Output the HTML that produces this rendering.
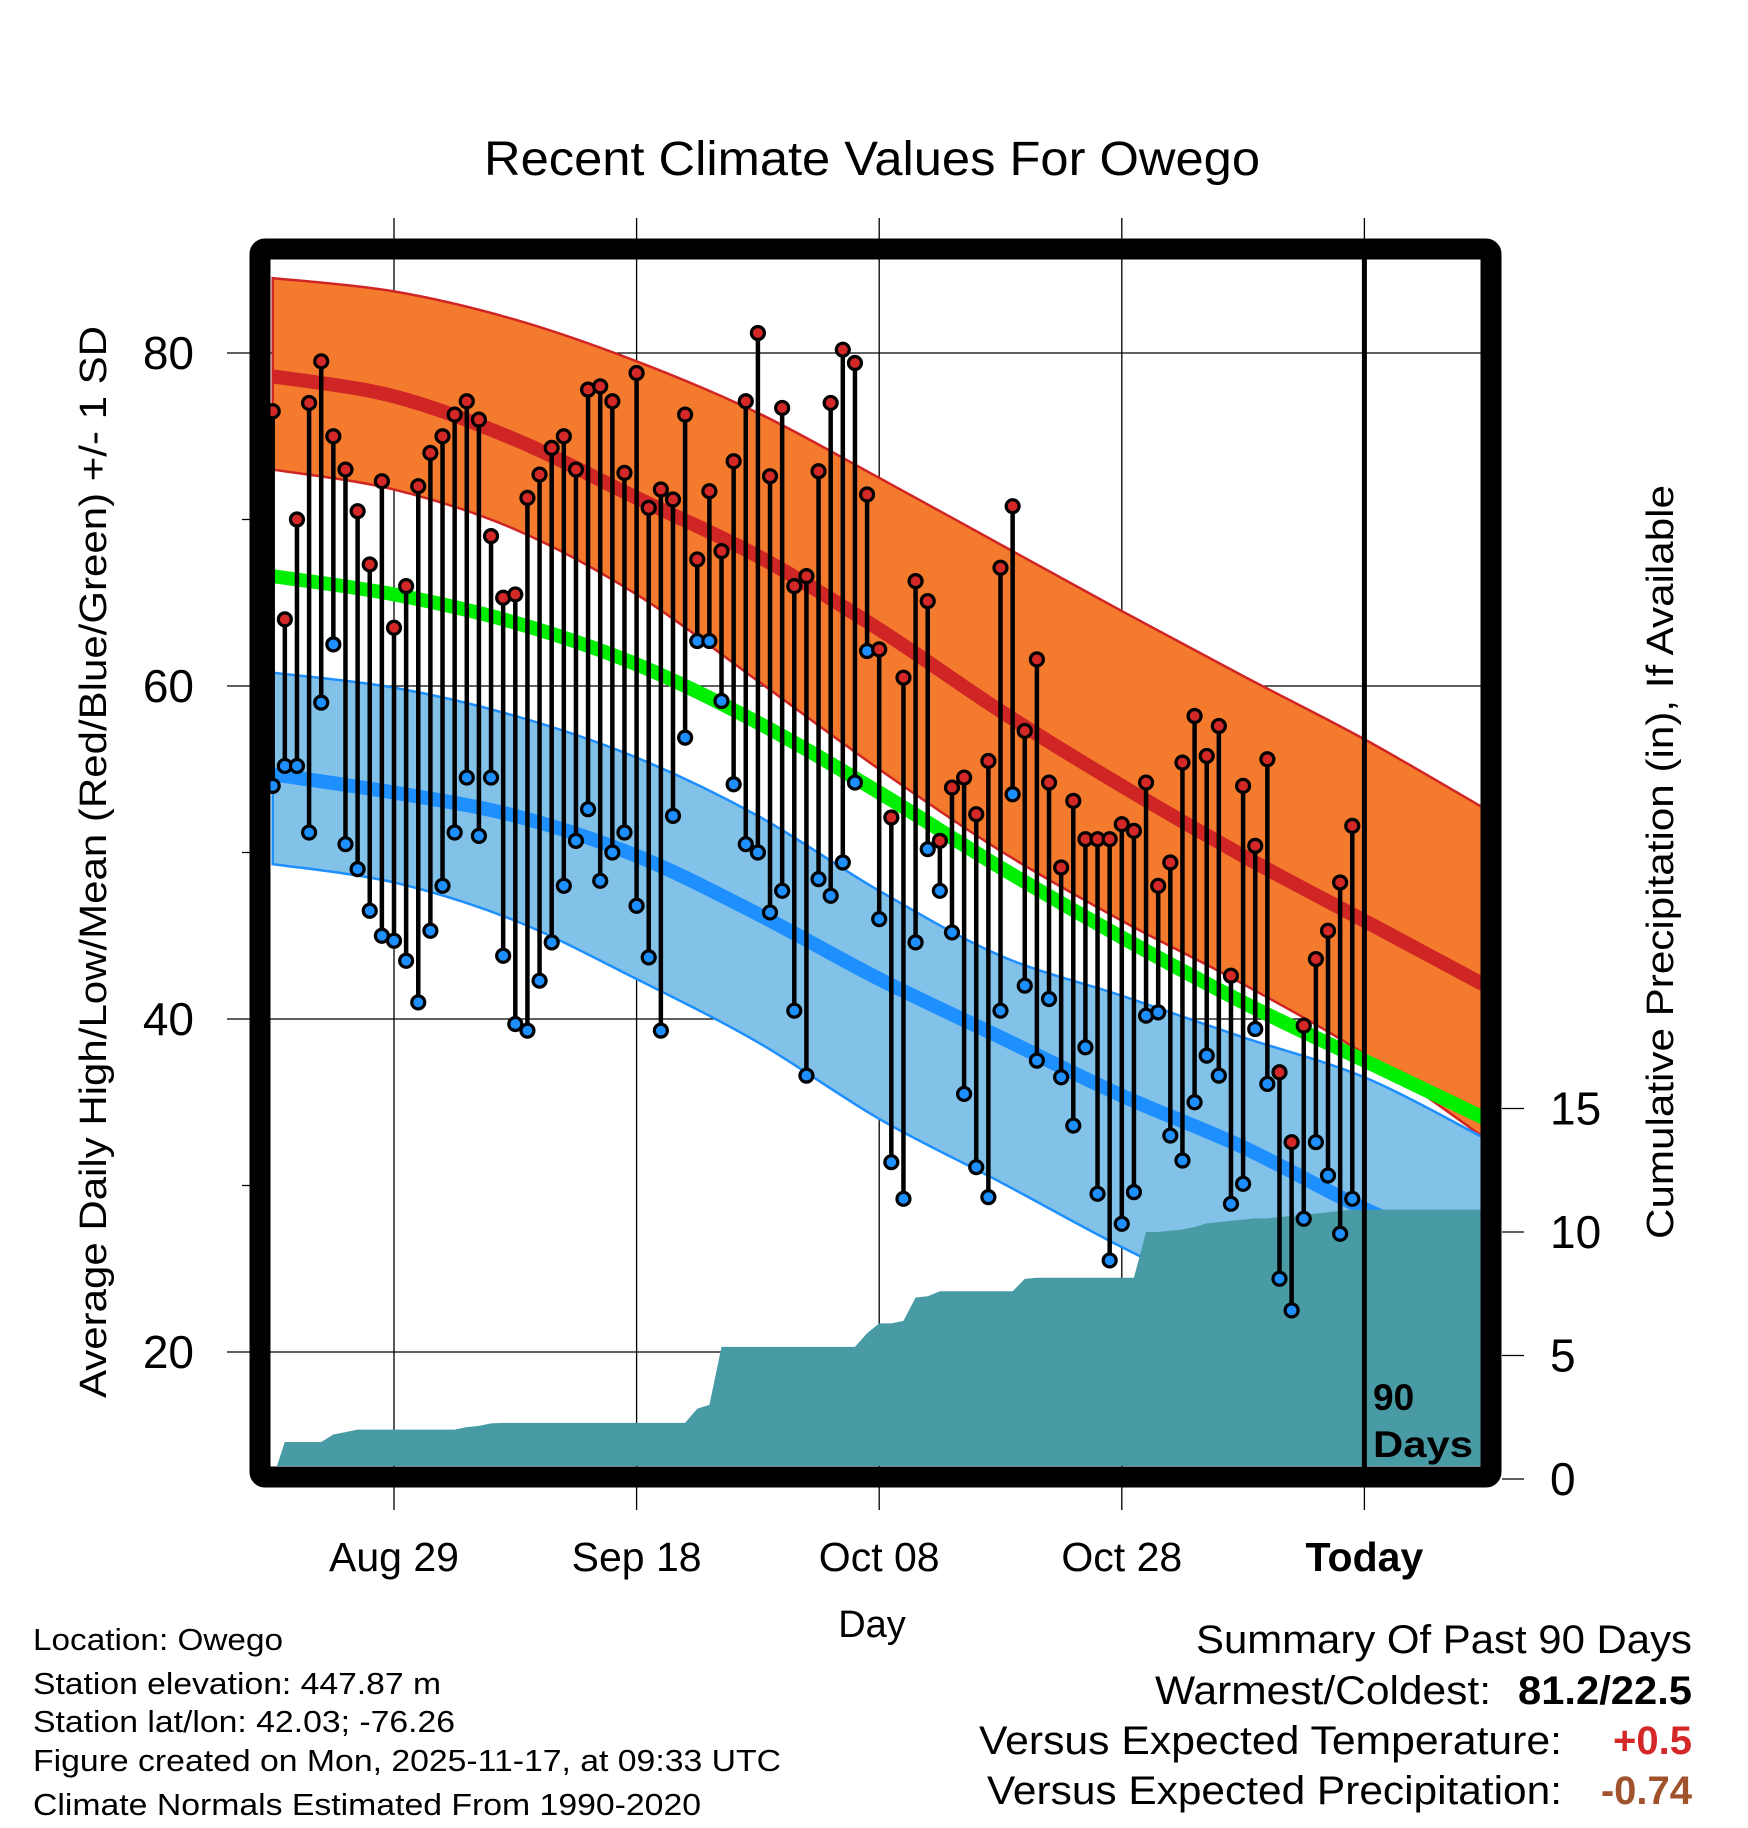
<!DOCTYPE html>
<html><head><meta charset="utf-8"><style>
html,body{margin:0;padding:0;background:#fff;}
svg{display:block;font-family:"Liberation Sans",sans-serif;}
</style></head><body>
<svg id="chart" width="1748" height="1828" viewBox="0 0 1748 1828" xmlns="http://www.w3.org/2000/svg">
<defs><clipPath id="plotclip"><rect x="270" y="259" width="1211" height="1207"/></clipPath></defs>
<text x="872" y="175" font-size="48" text-anchor="middle" textLength="776" lengthAdjust="spacingAndGlyphs">Recent Climate Values For Owego</text>
<g id="grid"></g>
<g id="plot" clip-path="url(#plotclip)"></g>
<g id="marks"></g>
<rect x="260" y="249" width="1231" height="1228" rx="5" fill="none" stroke="#000" stroke-width="21"/>
<g id="axes"></g>
<text transform="translate(106,862) rotate(-90)" font-size="38" text-anchor="middle" textLength="1072" lengthAdjust="spacingAndGlyphs">Average Daily High/Low/Mean (Red/Blue/Green) +/- 1 SD</text>
<text transform="translate(1673,862) rotate(-90)" font-size="38" text-anchor="middle" textLength="754" lengthAdjust="spacingAndGlyphs">Cumulative Precipitation (in), If Available</text>
<text x="872" y="1637" font-size="38" text-anchor="middle">Day</text>
<text x="1373" y="1410" font-size="37" font-weight="bold">90</text>
<text x="1373" y="1457" font-size="37" font-weight="bold" textLength="100" lengthAdjust="spacingAndGlyphs">Days</text>
<g font-size="31">
<text x="33" y="1650" textLength="250" lengthAdjust="spacingAndGlyphs">Location: Owego</text>
<text x="33" y="1694" textLength="408" lengthAdjust="spacingAndGlyphs">Station elevation: 447.87 m</text>
<text x="33" y="1732" textLength="422" lengthAdjust="spacingAndGlyphs">Station lat/lon: 42.03; -76.26</text>
<text x="33" y="1771" textLength="748" lengthAdjust="spacingAndGlyphs">Figure created on Mon, 2025-11-17, at 09:33 UTC</text>
<text x="33" y="1815" textLength="668" lengthAdjust="spacingAndGlyphs">Climate Normals Estimated From 1990-2020</text>
</g>
<g font-size="40">
<text x="1692" y="1653" text-anchor="end" textLength="496" lengthAdjust="spacingAndGlyphs">Summary Of Past 90 Days</text>
<text x="1491" y="1704" text-anchor="end" textLength="336" lengthAdjust="spacingAndGlyphs">Warmest/Coldest:</text>
<text x="1692" y="1704" text-anchor="end" font-weight="bold" textLength="174" lengthAdjust="spacingAndGlyphs">81.2/22.5</text>
<text x="1562" y="1754" text-anchor="end" textLength="583" lengthAdjust="spacingAndGlyphs">Versus Expected Temperature:</text>
<text x="1692" y="1754" text-anchor="end" font-weight="bold" fill="#d42828">+0.5</text>
<text x="1562" y="1804" text-anchor="end" textLength="575" lengthAdjust="spacingAndGlyphs">Versus Expected Precipitation:</text>
<text x="1692" y="1804" text-anchor="end" font-weight="bold" fill="#a0522d">-0.74</text>
</g>
</svg>
<script>
const normDays=[-10,0,10,20,30,40,50,60,70,80,90];
const highUpper=[84.5,83.7,82,79.5,76.4,72.5,68.5,64.5,60.6,56.8,52.6];
const highNorm=[78.6,77.4,74.8,71.3,67.8,63.4,58.5,54,49.8,45.9,42];
const highLower=[73,71.8,69.4,65.5,60.3,55,50.1,45.9,42.1,37.9,32.8];
const meanNorm=[66.6,65.5,63.8,61.3,57.8,53.6,49.1,44.9,41,37.5,34];
const lowUpper=[60.8,59.9,58.2,55.7,52.2,47.7,43.8,41.4,38.9,36.5,32.8];
const lowNorm=[54.7,53.6,52.2,49.8,46.3,42.4,38.9,35.4,32.3,28.6,25.5];
const lowLower=[49.3,48.2,45.9,42.4,38.6,34,30.2,26.3,22.8,19.5,16];
const highs=[76.5,64,70,77,79.5,75,73,70.5,67.3,72.3,63.5,66,72,74,75,76.3,77.1,76,69,65.3,65.5,71.3,72.7,74.3,75,73,77.8,78,77.1,72.8,78.8,70.7,71.8,71.2,76.3,67.6,71.7,68.1,73.5,77.1,81.2,72.6,76.7,66,66.6,72.9,77,80.2,79.4,71.5,62.2,52.1,60.5,66.3,65.1,50.7,53.9,54.5,52.3,55.5,67.1,70.8,57.3,61.6,54.2,49.1,53.1,50.8,50.8,50.8,51.7,51.3,54.2,48,49.4,55.4,58.2,55.8,57.6,42.6,54,50.4,55.6,36.8,32.6,39.6,43.6,45.3,48.2,51.6];
const lows=[54,55.2,55.2,51.2,59,62.5,50.5,49,46.5,45,44.7,43.5,41,45.3,48,51.2,54.5,51,54.5,43.8,39.7,39.3,42.3,44.6,48,50.7,52.6,48.3,50,51.2,46.8,43.7,39.3,52.2,56.9,62.7,62.7,59.1,54.1,50.5,50,46.4,47.7,40.5,36.6,48.4,47.4,49.4,54.2,62.1,46,31.4,29.2,44.6,50.2,47.7,45.2,35.5,31.1,29.3,40.5,53.5,42,37.5,41.2,36.5,33.6,38.3,29.5,25.5,27.7,29.6,40.2,40.4,33,31.5,35,37.8,36.6,28.9,30.1,39.4,36.1,24.4,22.5,28,32.6,30.6,27.1,29.2];
const precip=[0,1.5,1.5,1.5,1.5,1.8,1.9,2,2,2,2,2,2,2,2,2,2.1,2.15,2.25,2.27,2.27,2.27,2.27,2.27,2.27,2.27,2.27,2.27,2.27,2.27,2.27,2.27,2.27,2.27,2.27,2.85,3,5.35,5.35,5.35,5.35,5.35,5.35,5.35,5.35,5.35,5.35,5.35,5.35,5.9,6.3,6.3,6.4,7.35,7.4,7.6,7.6,7.6,7.6,7.6,7.6,7.6,8.1,8.15,8.15,8.15,8.15,8.15,8.15,8.15,8.15,8.15,10,10,10.05,10.1,10.2,10.35,10.4,10.45,10.5,10.55,10.55,10.6,10.65,10.7,10.75,10.8,10.85,10.9];
const xTickDays=[0,20,40,60,80];
const xTickLabels=["Aug 29","Sep 18","Oct 08","Oct 28","Today"];
const yTicks=[20,40,60,80];
const yMinor=[30,50,70];
const pTicks=[0,5,10,15];
const firstDay=-10, todayDay=80;

const NS="http://www.w3.org/2000/svg";
const xD=d=>394+d*12.13;
const yT=t=>353+(80-t)*16.65;
const yP=p=>1479-p*24.7;
function mk(tag,attrs,parent){const e=document.createElementNS(NS,tag);for(const k in attrs)e.setAttribute(k,attrs[k]);parent.appendChild(e);return e;}
function smooth(pts){let d="M"+pts[0][0]+","+pts[0][1];for(let i=0;i<pts.length-1;i++){const p0=pts[Math.max(0,i-1)],p1=pts[i],p2=pts[i+1],p3=pts[Math.min(pts.length-1,i+2)];const c1=[p1[0]+(p2[0]-p0[0])/6,p1[1]+(p2[1]-p0[1])/6],c2=[p2[0]-(p3[0]-p1[0])/6,p2[1]-(p3[1]-p1[1])/6];d+="C"+c1+" "+c2+" "+p2;}return d;}
const curve=arr=>arr.map((v,i)=>[xD(normDays[i]),yT(v)]);
function band(up,lo){const a=curve(up),b=curve(lo).reverse();return smooth(a)+"L"+smooth(b).slice(1)+"Z";}

const grid=document.getElementById('grid'),plot=document.getElementById('plot'),marks=document.getElementById('marks'),axes=document.getElementById('axes');
xTickDays.forEach((d,i)=>{const l=mk('line',{x1:xD(d),x2:xD(d),y1:218,y2:1510,stroke:'#000','stroke-width':1.3},grid);

});
yTicks.forEach(t=>{const l=mk('line',{x1:227,x2:1481,y1:yT(t),y2:yT(t),stroke:'#000','stroke-width':1.3},grid);

});
yMinor.forEach(t=>{const l=mk('line',{x1:242,x2:260,y1:yT(t),y2:yT(t),stroke:'#000','stroke-width':1.3},grid);

});
let e;
e=mk('path',{d:band(highUpper,highLower),fill:'#f47a2e',stroke:'#d02525','stroke-width':2.5},plot);


e=mk('path',{d:band(lowUpper,lowLower),fill:'#82c1e8',stroke:'#1e8fff','stroke-width':2.5},plot);


e=mk('path',{d:smooth(curve(highNorm)),fill:'none',stroke:'#d02525','stroke-width':14},plot);


e=mk('path',{d:smooth(curve(meanNorm)),fill:'none',stroke:'#00ee00','stroke-width':14},plot);


e=mk('path',{d:smooth(curve(lowNorm)),fill:'none',stroke:'#1e8fff','stroke-width':14},plot);


let pd="M"+xD(firstDay)+","+yP(0);
precip.forEach((p,i)=>{pd+="L"+xD(firstDay+i)+","+yP(p);});
pd+="L1490,"+yP(precip[precip.length-1])+"L1490,"+yP(0)+"Z";
e=mk('path',{d:pd,fill:'#489ba5'},plot);


e=mk('line',{x1:xD(todayDay),x2:xD(todayDay),y1:255,y2:1468,stroke:'#000','stroke-width':5},marks);


highs.forEach((h,i)=>{const x=xD(firstDay+i),lo=lows[i];
const s=mk('line',{x1:x,x2:x,y1:yT(h),y2:yT(lo),stroke:'#000','stroke-width':4.5},marks);


const c1=mk('circle',{cx:x,cy:yT(h),r:6.5,fill:'#d42828',stroke:'#000','stroke-width':3.2},marks);


const c2=mk('circle',{cx:x,cy:yT(lo),r:6.5,fill:'#1e8fff',stroke:'#000','stroke-width':3.2},marks);

});
yTicks.forEach(t=>{const tx=mk('text',{x:194,y:yT(t)+16,'font-size':46,'text-anchor':'end'},axes);tx.textContent=t;

});
pTicks.forEach(p=>{const l=mk('line',{x1:1502,x2:1524,y1:yP(p),y2:yP(p),stroke:'#000','stroke-width':1.3},axes);


const tx=mk('text',{x:1550,y:yP(p)+16,'font-size':46},axes);tx.textContent=p;

});
xTickDays.forEach((d,i)=>{const tx=mk('text',{x:xD(d),y:1571,'font-size':41,'text-anchor':'middle','font-weight':i===4?'bold':'normal'},axes);tx.textContent=xTickLabels[i];

});
</script>
</body></html>
